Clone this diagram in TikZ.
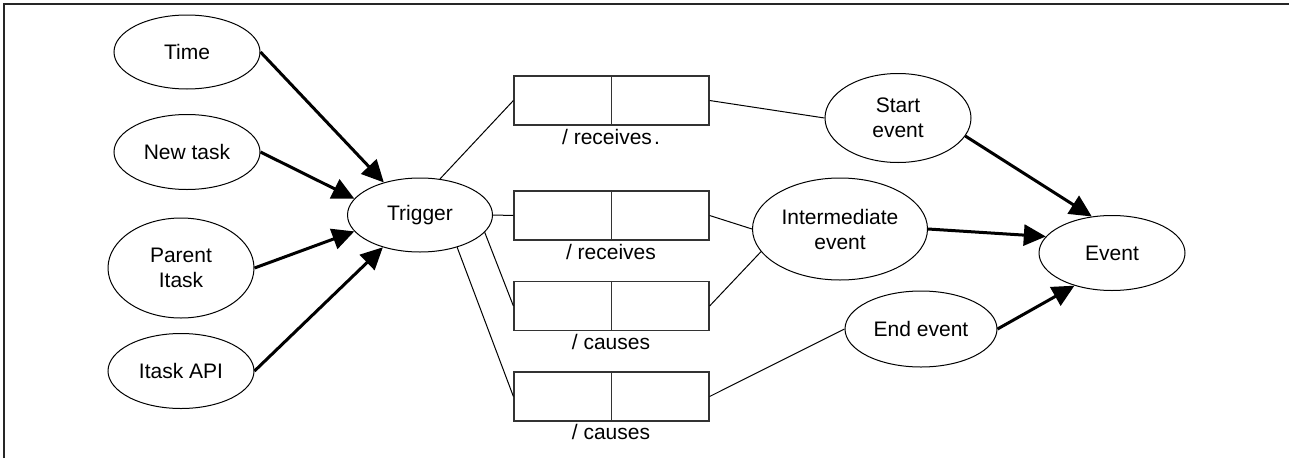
\documentclass[tikz,border=0pt]{standalone}
\usepackage{fontspec}
\setmainfont{Liberation Sans}
\usetikzlibrary{shapes.geometric,arrows.meta}
\begin{document}
\begin{tikzpicture}[x=1pt,y=-1pt,
  every node/.style={font=\fontsize{21}{25}\selectfont, text=black},
  oval/.style={draw, ellipse, line width=1pt, inner sep=0pt, align=center},
  slot/.style={draw, rectangle, line width=1.2pt, draw=black!80, inner sep=0pt,
               minimum width=195pt, minimum height=49pt},
  slotlabel/.style={inner sep=0pt, anchor=north},
  feed/.style={line width=3pt, -{Triangle[length=22pt,width=21pt]}},
  link/.style={line width=1pt}]
  \useasboundingbox (0,0) rectangle (1289,458);
  % page frame
  \draw[line width=1.5pt, black!85] (4,458) -- (4,4) -- (1289,4);

  % sources
  \node[oval, minimum width=146pt, minimum height=74pt]  (time)   at (187,52)  {Time};
  \node[oval, minimum width=146pt, minimum height=75pt]  (newt)   at (187,152) {New task};
  \node[oval, minimum width=146pt, minimum height=100pt] (parent) at (181,268) {Parent\\Itask};
  \node[oval, minimum width=146pt, minimum height=75pt]  (api)    at (181,371) {Itask API};

  % trigger
  \node[oval, minimum width=145pt, minimum height=74pt] (trig) at (420,215) {Trigger};

  % two-part slots
  \node[slot] (s1) at (611.5,100.5) {};
  \node[slot] (s2) at (611.5,215.5) {};
  \node[slot] (s3) at (611.5,306)   {};
  \node[slot] (s4) at (611.5,396.5) {};
  \foreach \s in {s1,s2,s3,s4}
    \draw[line width=1.2pt, black!80] (\s.north) -- (\s.south);
  \node[slotlabel] (l1) at (611,129) {/ receives\kern2pt.};
  \node[slotlabel] (l2) at (611,244) {/ receives};
  \node[slotlabel] (l3) at (611,334) {/ causes};
  \node[slotlabel] (l4) at (611,424) {/ causes};

  % events
  \node[oval, minimum width=146pt, minimum height=89pt]  (start) at (898,118) {Start\\event};
  \node[oval, minimum width=175pt, minimum height=102pt] (inter) at (840,229) {Intermediate\\event};
  \node[oval, minimum width=152pt, minimum height=76pt]  (endev) at (921,329) {End event};
  \node[oval, minimum width=146pt, minimum height=75pt]  (event) at (1112,253) {Event};

  % inputs into the trigger
  \draw[feed] (time.east)   -- (trig.138);
  \draw[feed] (newt.east)   -- (trig.166.6);
  \draw[feed] (parent.east) -- (trig.194.7);
  \draw[feed] (api.east)    -- (trig.221.6);

  % trigger to slots
  \draw[link] (trig.61.6) -- (s1.west);
  \draw[link] (trig.east) -- (s2.west);
  \draw[link] (trig.-15)  -- (s3.west);
  \draw[link] (trig.-41.7) -- (s4.west);

  % slots to events
  \draw[link] (s1.east) -- (start.west);
  \draw[link] (s2.east) -- (inter.west);
  \draw[link] (s3.east) -- (inter.196.4);
  \draw[link] (s4.east) -- (endev.west);

  % events into the general event
  \draw[feed] (start.-15.8) -- (event.119);
  \draw[feed] (inter.east)  -- (event.166.6);
  \draw[feed] (endev.east)  -- (event.221.7);
\end{tikzpicture}
\end{document}
